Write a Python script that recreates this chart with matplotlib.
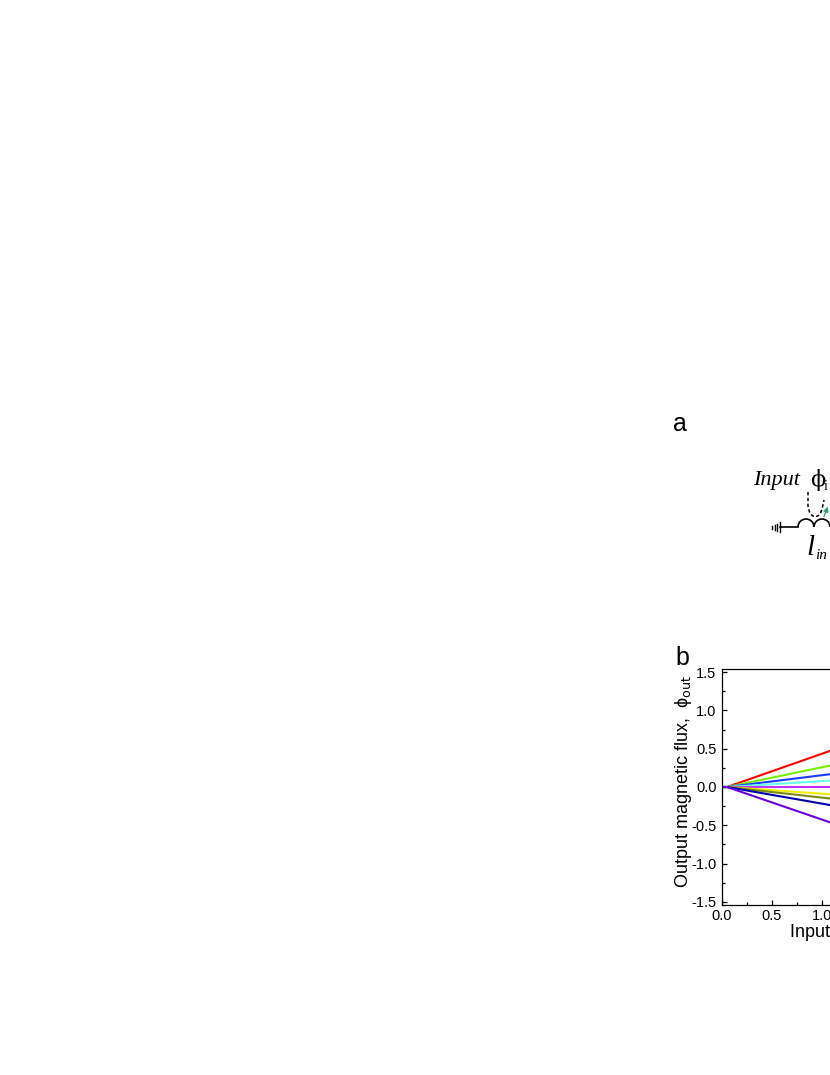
import numpy as np
import matplotlib
matplotlib.use("Agg")
import matplotlib.pyplot as plt
from matplotlib.patches import Arc, FancyArrowPatch

plt.rcParams['font.family'] = ['Liberation Sans', 'DejaVu Sans']
plt.rcParams['mathtext.fontset'] = 'dejavusans'

# flux curves: start / end of each line (input flux -> output flux)
x_start = 0.05
x_end = 1.1
line_colors = ['#ff0000', '#77ee00', '#1a3cff', '#66ffe6', '#c030ff',
               '#eeee00', '#7a8a10', '#0000aa', '#6a00e0']
phi_out_end = [0.48, 0.285, 0.17, 0.085, 0.0, -0.097, -0.153, -0.24, -0.47]

W, H = 830, 1075
fig = plt.figure(figsize=(W / 100, H / 100), dpi=100)

# overlay in pixel coords for panel labels and the circuit sketch
ov = fig.add_axes([0, 0, 1, 1])
ov.set_xlim(0, W)
ov.set_ylim(H, 0)
ov.axis('off')

# panel b plot (extends beyond right edge of the canvas)
left, right, top, bottom = 722, 922, 669, 905
ax = fig.add_axes([left / W, (H - bottom) / H, (right - left) / W, (bottom - top) / H])
ax.set_xlim(0, 2.0)
ax.set_ylim(-1.54, 1.54)
for c, ye in zip(line_colors, phi_out_end):
    ax.plot([0.0, x_start, x_end], [0.0, 0.0, ye], color=c, lw=1.5)
ax.set_xticks(np.arange(0, 2.01, 0.5))
ax.set_yticks(np.arange(-1.5, 1.51, 0.5))
ax.set_xticks(np.arange(0, 2.01, 0.25), minor=True)
ax.set_yticks(np.arange(-1.5, 1.51, 0.25), minor=True)
ax.xaxis.set_major_formatter(matplotlib.ticker.FormatStrFormatter('%.1f'))
ax.yaxis.set_major_formatter(matplotlib.ticker.FormatStrFormatter('%.1f'))
ax.tick_params(which='both', direction='in', labelsize=10.5, width=0.9)
ax.tick_params(axis='x', which='major', length=3.5, pad=3)
ax.tick_params(axis='y', which='major', length=3.5, pad=4)
ax.tick_params(which='minor', length=2)
for s in ax.spines.values():
    s.set_linewidth(0.9)

ov.text(683, 782, 'Output magnetic flux,  \u03d5$_{\\rm out}$', rotation=90,
        ha='center', va='center', fontsize=13)
ov.text(789, 937, 'Input magnetic flux,  \u03d5$_{\\rm in}$', ha='left',
        va='baseline', fontsize=13)

# panel labels
ov.text(673, 431, 'a', fontsize=18, va='baseline', ha='left')
ov.text(675, 665, 'b', fontsize=18, va='baseline', ha='left')

# circuit sketch (panel a)
serif = ['Liberation Serif', 'DejaVu Serif']
ov.text(753, 485, 'Input', family=serif, style='italic', fontsize=16, va='baseline')
ov.text(810, 486, '\u03d5', family=['DejaVu Serif'], fontsize=16, va='baseline')
ov.text(823.5, 490, 'i', family=serif, fontsize=10, va='baseline')
ov.text(806, 555, 'l', family=serif, style='italic', fontsize=21, va='baseline')
ov.text(815, 559, 'in', family=serif, style='italic', fontsize=11, va='baseline')

# ground symbol + wire + inductor bumps
gy = 527
for gx, gh in [(772, 1.5), (774.5, 2.5), (777, 3.5), (780, 5)]:
    ov.plot([gx, gx], [gy - gh, gy + gh], color='black', lw=1.0)
ov.plot([780, 798], [gy, gy], color='black', lw=1.2)
ov.add_patch(Arc((806, gy), 16, 16, theta1=180, theta2=360, color='black', lw=1.2))
ov.add_patch(Arc((822, gy), 16, 16, theta1=180, theta2=360, color='black', lw=1.2))

# dashed flux loop
dx = [808, 808, 809.5, 812, 815, 818.5, 821, 822.5, 824]
dy = [492, 506, 512, 515.5, 517, 515.5, 512, 507, 500]
ov.plot(dx, dy, color='black', lw=1.1, ls=(0, (2.2, 1.6)))
ov.add_patch(FancyArrowPatch((823, 519), (829, 504), arrowstyle='-|>',
                             mutation_scale=7, color='#3a9a80', lw=1.0))

fig.savefig('out.png', dpi=100)
